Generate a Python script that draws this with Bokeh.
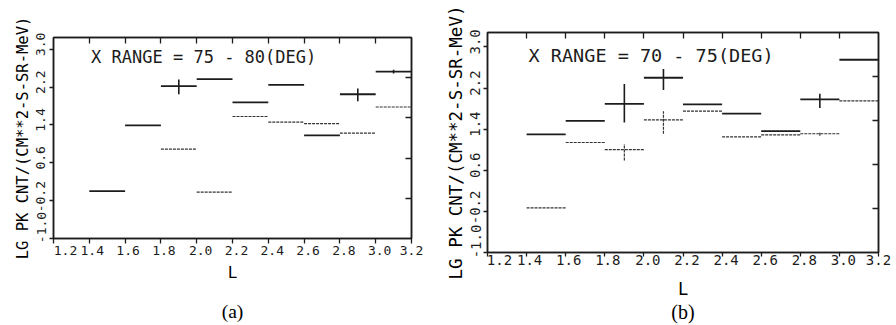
import math
from bokeh.plotting import figure
from bokeh.layouts import row, column
from bokeh.models import Range1d, LinearAxis, FixedTicker, Label
from bokeh.embed import file_html
from bokeh.resources import INLINE

nan = float("nan")

# L bins (left / right edges)
bin_lo = [1.4, 1.6, 1.8, 2.0, 2.2, 2.4, 2.6, 2.8, 3.0]
bin_hi = [1.6, 1.8, 2.0, 2.2, 2.4, 2.6, 2.8, 3.0, 3.2]

# Panel (a): X RANGE 75 - 80 deg
a_solid = [0.0, 1.39, 2.22, 2.37, 1.88, 2.25, 1.18, 2.05, 2.53]
a_dotted = [nan, nan, 0.89, -0.02, 1.58, 1.46, 1.43, 1.23, 1.78]
a_solid_err_lo = [nan, nan, 2.05, nan, nan, nan, nan, 1.90, 2.49]
a_solid_err_hi = [nan, nan, 2.36, nan, nan, nan, nan, 2.17, 2.57]
a_dotted_err_lo = [nan] * 9
a_dotted_err_hi = [nan] * 9

# Panel (b): X RANGE 70 - 75 deg
b_solid = [1.30, 1.56, 1.89, 2.40, 1.88, 1.70, 1.36, 1.98, 2.75]
b_dotted = [-0.13, 1.14, 1.00, 1.58, 1.75, 1.25, 1.29, 1.31, 1.95]
b_solid_err_lo = [nan, nan, 1.53, 2.16, nan, nan, nan, 1.81, nan]
b_solid_err_hi = [nan, nan, 2.28, 2.57, nan, nan, nan, 2.09, nan]
b_dotted_err_lo = [nan, nan, 0.79, 1.31, nan, nan, nan, 1.27, nan]
b_dotted_err_hi = [nan, nan, 1.11, 1.75, nan, nan, nan, 1.35, nan]

x_ticks = [1.2, 1.4, 1.6, 1.8, 2.0, 2.2, 2.4, 2.6, 2.8, 3.0, 3.2]
x_tick_labels = ["1.2", "1.4", "1.6", "1.8", "2.0", "2.2", "2.4", "2.6", "2.8", "3.0", "3.2"]
y_ticks = [-1.0, -0.2, 0.6, 1.4, 2.2, 3.0]
y_tick_labels = ["-1.0", "-0.2", "0.6", "1.4", "2.2", "3.0"]
right_ticks = [-0.2, 0.6, 1.4, 2.2]

# how far (px) the plotter set each tick label off its tick
x_label_shift_px = [12, 3, 3, 3, 4, 4, 4, 4, 4, 4, 0]
y_label_shift_px = [11, 4, 5, 5, 5, 5]

y_label = "LG PK CNT/(CM**2-S-SR-MeV)"
x_label = "L"
title_a = "X RANGE = 75 - 80(DEG)"
title_b = "X RANGE = 70 - 75(DEG)"

INK = "#1c1c1c"
MONO = "DejaVu Sans Mono"


def keep(vals):
    return [i for i, v in enumerate(vals) if not math.isnan(v)]


def tick_only_axis(ticks, tick_in, tick_out, **kw):
    return LinearAxis(ticker=FixedTicker(ticks=ticks),
                      major_label_overrides={t: "" for t in ticks},
                      major_label_text_font_size="1px", major_label_standoff=0,
                      major_tick_in=tick_in, major_tick_out=tick_out,
                      minor_tick_line_color=None,
                      axis_line_color=INK, axis_line_width=1.5,
                      major_tick_line_color=INK, major_tick_line_width=1.3, **kw)


def label_only_axis(positions, labels, font_size, standoff, orientation, title, title_size,
                    title_stand, title_font=MONO):
    return LinearAxis(ticker=FixedTicker(ticks=positions),
                      major_label_overrides={t: s for t, s in zip(positions, labels)},
                      major_label_text_font=MONO, major_label_text_font_size=font_size,
                      major_label_text_color=INK, major_label_standoff=standoff,
                      major_label_orientation=orientation,
                      major_tick_in=0, major_tick_out=0, major_tick_line_color=None,
                      minor_tick_line_color=None, axis_line_color=None,
                      axis_label=title, axis_label_text_font=title_font,
                      axis_label_text_font_style="normal", axis_label_text_font_size=title_size,
                      axis_label_text_color="black", axis_label_standoff=title_stand)


def panel(width, height, borders, y_top, solid, dotted, s_lo, s_hi, d_lo, d_hi,
          text, text_size, tick_size, ylab_size, xlab_size, letter, letter_size, letter_stand,
          xlab_stand, xtick_out, xtick_stand, ytick_stand):
    bl, br, bt, bb = borders
    p = figure(width=width, height=height, output_backend="svg", toolbar_location=None,
               x_range=Range1d(1.2, 3.2), y_range=Range1d(-1.0, y_top),
               x_axis_location=None, y_axis_location=None,
               min_border_left=bl, min_border_right=br, min_border_top=bt, min_border_bottom=bb)
    p.xgrid.visible = False
    p.ygrid.visible = False
    p.outline_line_color = INK
    p.outline_line_width = 1.5
    p.background_fill_color = "white"
    p.border_fill_color = "white"

    frame_w = width - bl - br
    frame_h = height - bt - bb
    x_upp = (3.2 - 1.2) / frame_w
    y_upp = (y_top + 1.0) / frame_h

    # tick marks on all four sides
    p.add_layout(tick_only_axis(x_ticks, 0, xtick_out), "below")
    p.add_layout(tick_only_axis(y_ticks, 0, 4), "left")
    p.add_layout(tick_only_axis(x_ticks[1:-1], 6, 0), "above")
    p.extra_y_ranges = {"frame": Range1d(-1.0, 3.0)}
    p.add_layout(tick_only_axis(right_ticks, 6, 0, y_range_name="frame"), "right")

    # tick labels, set slightly off their ticks as the plotter drew them
    xpos = [t + s * x_upp for t, s in zip(x_ticks, x_label_shift_px)]
    ypos = [t + s * y_upp for t, s in zip(y_ticks, y_label_shift_px)]
    p.add_layout(label_only_axis(xpos, x_tick_labels, tick_size, xtick_stand, "horizontal",
                                 x_label, xlab_size, xlab_stand), "below")
    p.add_layout(label_only_axis(ypos, y_tick_labels, tick_size, ytick_stand, "vertical",
                                 y_label, ylab_size, 2), "left")
    # panel letter as the caption under the plot
    p.add_layout(label_only_axis([], [], "1px", 0, "horizontal", letter, letter_size,
                                 letter_stand, title_font="Liberation Serif"), "below")

    # solid series
    idx = keep(solid)
    p.segment(x0=[bin_lo[i] for i in idx], x1=[bin_hi[i] for i in idx],
              y0=[solid[i] for i in idx], y1=[solid[i] for i in idx],
              line_color=INK, line_width=1.8)
    idx = keep(s_lo)
    p.segment(x0=[(bin_lo[i] + bin_hi[i]) / 2 for i in idx], x1=[(bin_lo[i] + bin_hi[i]) / 2 for i in idx],
              y0=[s_lo[i] for i in idx], y1=[s_hi[i] for i in idx],
              line_color=INK, line_width=1.6)

    # dotted series
    idx = keep(dotted)
    p.segment(x0=[bin_lo[i] for i in idx], x1=[bin_hi[i] for i in idx],
              y0=[dotted[i] for i in idx], y1=[dotted[i] for i in idx],
              line_color="#333333", line_width=1.2, line_dash="3 1")
    idx = keep(d_lo)
    p.segment(x0=[(bin_lo[i] + bin_hi[i]) / 2 for i in idx], x1=[(bin_lo[i] + bin_hi[i]) / 2 for i in idx],
              y0=[d_lo[i] for i in idx], y1=[d_hi[i] for i in idx],
              line_color="#333333", line_width=1.2, line_dash="3 1")

    p.add_layout(Label(x=1.41, y=2.84, text=text, text_font=MONO, text_font_size=text_size,
                       text_color=INK, text_baseline="middle", text_align="left"))
    return p


p1 = panel(440, 325, (53, 29, 37, 87), 3.25, a_solid, a_dotted,
           a_solid_err_lo, a_solid_err_hi, a_dotted_err_lo, a_dotted_err_hi,
           title_a, "17px", "13px", "15.5px", "16px", "(a)", "19.5px", 16,
           5, 5, 2, 4)
p2 = panel(456, 325, (47, 18, 32, 73), 3.28, b_solid, b_dotted,
           b_solid_err_lo, b_solid_err_hi, b_dotted_err_lo, b_dotted_err_hi,
           title_b, "18.5px", "14px", "17.5px", "17px", "(b)", "20px", -1,
           11, 4, -2, 3)

layout = row(column(p1), column(p2), spacing=0)
open("out.html", "w").write(file_html(layout, INLINE))
